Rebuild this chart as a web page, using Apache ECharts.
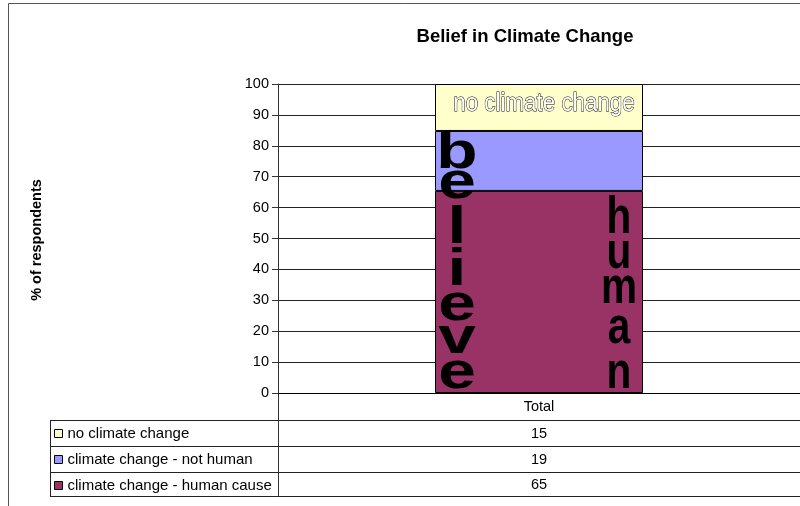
<!DOCTYPE html>
<html>
<head>
<meta charset="utf-8">
<title>Belief in Climate Change</title>
<script src="https://cdn.jsdelivr.net/npm/echarts@6/dist/echarts.min.js"></script>
<style>
  html, body { margin: 0; padding: 0; background: #fff; }
  #main { width: 800px; height: 506px; }
</style>
</head>
<body>
<div id="main"></div>
<script>
// data (table shows rounded values)
const categories = ["Total"];
const humanCause = [65.4];
const notHuman = [19.4];
const noChange = [15.2];
const seriesNames = ["climate change - human cause", "climate change - not human", "no climate change"];
const tableOrder = ["no climate change", "climate change - not human", "climate change - human cause"];
const colors = ["#993366", "#9999FF", "#FFFFCC"];

const FONT = "'Liberation Sans', Arial, sans-serif";
const chart = echarts.init(document.getElementById("main"), null, { renderer: "canvas" });

const valuesByName = {};
valuesByName[seriesNames[0]] = humanCause;
valuesByName[seriesNames[1]] = notHuman;
valuesByName[seriesNames[2]] = noChange;

const option = {
  animation: false,
  color: colors,
  grid: { left: 278, top: 84, right: 0, height: 309, containLabel: false },
  legend: {
    orient: "vertical",
    left: 54,
    top: 426,
    padding: 0,
    itemWidth: 8,
    itemHeight: 8,
    itemGap: 11,
    icon: "rect",
    selectedMode: false,
    data: tableOrder,
    itemStyle: { borderColor: "#000", borderWidth: 1 },
    textStyle: { fontSize: 15, color: "#000", fontFamily: FONT, lineHeight: 15 }
  },
  xAxis: {
    type: "category",
    data: categories,
    axisTick: { show: false },
    axisLine: { lineStyle: { color: "#000", width: 1 } },
    axisLabel: { margin: 6, fontSize: 14.5, color: "#000", fontFamily: FONT },
    splitLine: { show: false }
  },
  yAxis: {
    type: "value",
    min: 0,
    max: 100,
    interval: 10,
    axisLine: { show: true, lineStyle: { color: "#333" } },
    axisTick: { show: true, inside: false, length: 6, lineStyle: { color: "#333" } },
    axisLabel: { margin: 9, fontSize: 14.5, color: "#000", fontFamily: FONT },
    splitLine: { show: true, lineStyle: { color: "#222", width: 1 } }
  },
  series: seriesNames.map(function (name) {
    return {
      name: name,
      type: "bar",
      stack: "total",
      barWidth: 208,
      data: valuesByName[name],
      itemStyle: { borderColor: "#000", borderWidth: 1 }
    };
  })
};
chart.setOption(option);

// annotations and data table, placed from the axes
const cx = chart.convertToPixel({ xAxisIndex: 0 }, categories[0]);
const y0 = chart.convertToPixel({ yAxisIndex: 0 }, 0);
const barLeft = cx - 104;
const barRight = cx + 104;
const tableLeft = 50, tableRight = 800;
const rowLines = [420, 446, 472, 496];

const g = [];
// chart frame
g.push({ type: "rect", silent: true, z: 0,
  shape: { x: 8.5, y: 3.5, width: 900, height: 700 },
  style: { fill: "none", stroke: "#555", lineWidth: 1 } });
// title
g.push({ type: "text", silent: true, x: 525, y: 37,
  style: { text: "Belief in Climate Change", fontSize: 18.5, fontWeight: "bold", fontFamily: FONT,
    fill: "#000", align: "center", verticalAlign: "middle" } });
// y axis name
g.push({ type: "text", silent: true, x: 37, y: 240, rotation: Math.PI / 2,
  style: { text: "% of respondents", fontSize: 14.5, fontWeight: "bold", fontFamily: FONT,
    fill: "#000", align: "center", verticalAlign: "middle" } });

// table lines
rowLines.forEach(function (y) {
  g.push({ type: "line", silent: true, shape: { x1: tableLeft, y1: y + 0.5, x2: tableRight, y2: y + 0.5 },
    style: { stroke: "#222", lineWidth: 1 } });
});
g.push({ type: "line", silent: true, shape: { x1: tableLeft + 0.5, y1: rowLines[0], x2: tableLeft + 0.5, y2: rowLines[3] + 0.5 },
  style: { stroke: "#222", lineWidth: 1 } });
g.push({ type: "line", silent: true, shape: { x1: 278.5, y1: y0, x2: 278.5, y2: rowLines[3] + 0.5 },
  style: { stroke: "#333", lineWidth: 1 } });
// table values
tableOrder.forEach(function (name, i) {
  g.push({ type: "text", silent: true, x: cx, y: (rowLines[i] + rowLines[i + 1]) / 2 + 1,
    style: { text: String(Math.round(valuesByName[name][0])), fontSize: 14.5, fontFamily: FONT,
      fill: "#000", align: "center", verticalAlign: "middle" } });
});

// "no climate change" outlined text in the top segment
g.push({ type: "text", silent: true, z: 10, x: cx + 5, y: 104, scaleX: 0.86,
  style: { text: "no climate change", fontSize: 26, fontFamily: FONT, fill: "#fff",
    stroke: "#000", lineWidth: 1, align: "center", verticalAlign: "middle" } });

// vertical words, one letter per line
const LF = 52;
const believeBase = [170, 200, 245, 287, 322, 355, 390];
"believe".split("").forEach(function (ch, i) {
  g.push({ type: "text", silent: true, z: 10, x: barLeft + 22, y: believeBase[i] - 0.31 * LF, scaleX: 1.3,
    style: { text: ch, fontSize: LF, fontWeight: "bold", fontFamily: FONT, fill: "#000", align: "center", verticalAlign: "middle" } });
});
const humanBase = [235, 270, 305, 345, 390];
"human".split("").forEach(function (ch, i) {
  g.push({ type: "text", silent: true, z: 10, x: barRight - 24, y: humanBase[i] - 0.31 * LF, scaleX: 0.78,
    style: { text: ch, fontSize: LF, fontWeight: "bold", fontFamily: FONT, fill: "#000", align: "center", verticalAlign: "middle" } });
});

chart.setOption({ graphic: g });
</script>
</body>
</html>
